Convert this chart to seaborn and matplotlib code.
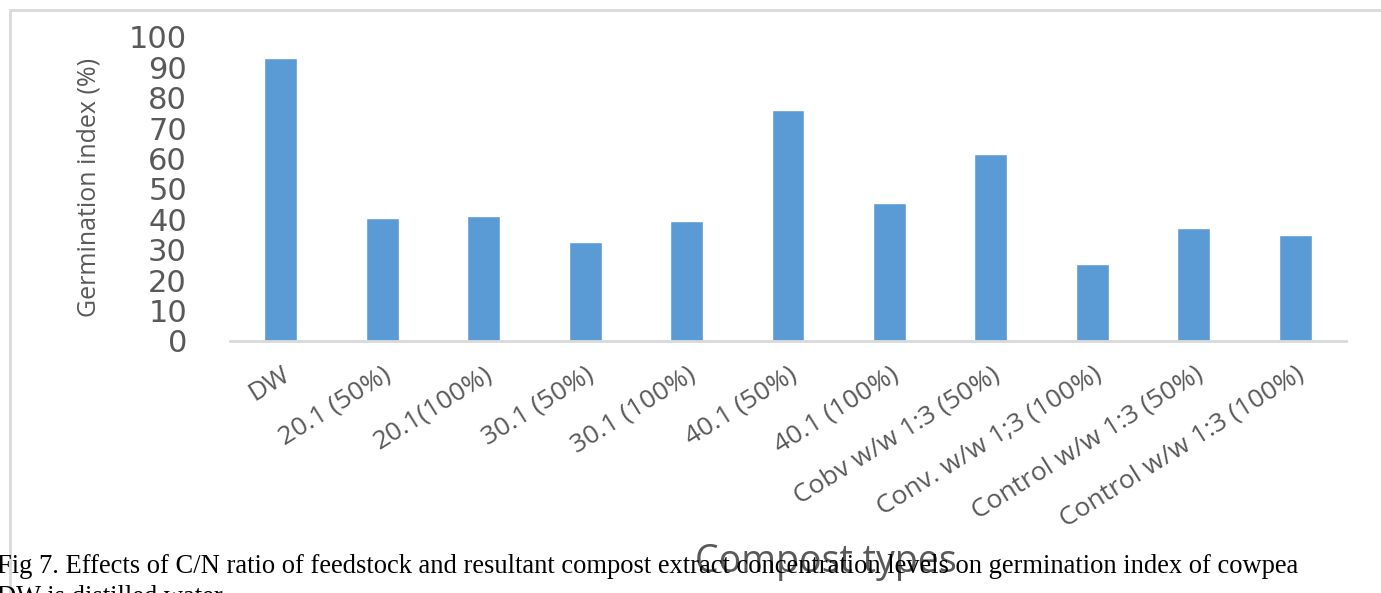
import matplotlib
matplotlib.use("Agg")
import matplotlib.pyplot as plt
import matplotlib.transforms as mtransforms
from matplotlib.patches import Rectangle
import seaborn as sns
import pandas as pd

categories = ["DW", "20.1 (50%)", "20.1(100%)", "30.1 (50%)", "30.1 (100%)",
              "40.1 (50%)", "40.1 (100%)", "Cobv w/w 1:3 (50%)",
              "Conv. w/w 1;3 (100%)", "Control w/w 1:3 (50%)",
              "Control w/w 1:3 (100%)"]
germination_index = [93.0, 40.5, 41.0, 32.5, 39.5, 76.0, 45.5, 61.5, 25.3, 37.2, 35.0]
y_ticks = list(range(0, 101, 10))

y_label = "Germination index (%)"
x_label = "Compost types"
caption1 = ("Fig 7. Effects of C/N ratio of feedstock and resultant compost extract "
            "concentration levels on germination index of cowpea")
caption2 = "DW is distilled water"

sns.set_theme(style="white")
plt.rcParams['font.family'] = ['Open Sans', 'DejaVu Sans']

W, H = 1381, 593
fig = plt.figure(figsize=(W / 100, H / 100), dpi=100)
fig.patch.set_facecolor("white")

# outer chart frame
fig.patches.append(Rectangle((10 / W, -0.2), 1.2, 1.2 - 10 / H,
                             transform=fig.transFigure, fill=False,
                             edgecolor="#d9d9d9", lw=2, zorder=0))

ax = fig.add_axes([230 / W, 1 - 341 / H, 1116 / W, 304 / H])
df = pd.DataFrame({"cat": categories, "gi": germination_index})
sns.barplot(data=df, x="cat", y="gi", color="#5b9bd5", saturation=1,
            width=0.325, ax=ax)

ax.set_xlim(-0.5, len(categories) - 0.5)
ax.set_ylim(0, 100)
ax.set_yticks(y_ticks)
ax.set_xlabel("")
ax.set_ylabel("")
for s in ["left", "right", "top"]:
    ax.spines[s].set_visible(False)
ax.spines["bottom"].set_color("#d9d9d9")
ax.spines["bottom"].set_linewidth(2)
ax.tick_params(axis="both", length=0)
ax.tick_params(axis="y", pad=31, labelsize=22, labelcolor="#595959")
ax.tick_params(axis="x", pad=15, labelsize=19, labelcolor="#595959")
for t in ax.get_yticklabels():
    t.set_fontfamily(["DejaVu Sans"])

offset = mtransforms.ScaledTranslation(0, 0, fig.dpi_scale_trans)
for t in ax.get_xticklabels():
    t.set_rotation(32)
    t.set_ha("right")
    t.set_va("top")
    t.set_rotation_mode("anchor")
    t.set_transform(t.get_transform() + offset)

fig.text(89 / W, 1 - 187 / H, y_label, rotation=90, ha="center", va="center",
         fontsize=18, color="#595959")
fig.text(826 / W, 1 - 572 / H, x_label, ha="center", va="baseline",
         fontsize=27, color="#595959")
fig.text(-3 / W, 1 - 573 / H, caption1, ha="left", va="baseline",
         fontsize=19.1, color="black", family=["Liberation Serif"])
fig.text(-3 / W, 1 - 604 / H, caption2, ha="left", va="baseline",
         fontsize=19.1, color="black", family=["Liberation Serif"])

fig.savefig("out.png", dpi=100)
